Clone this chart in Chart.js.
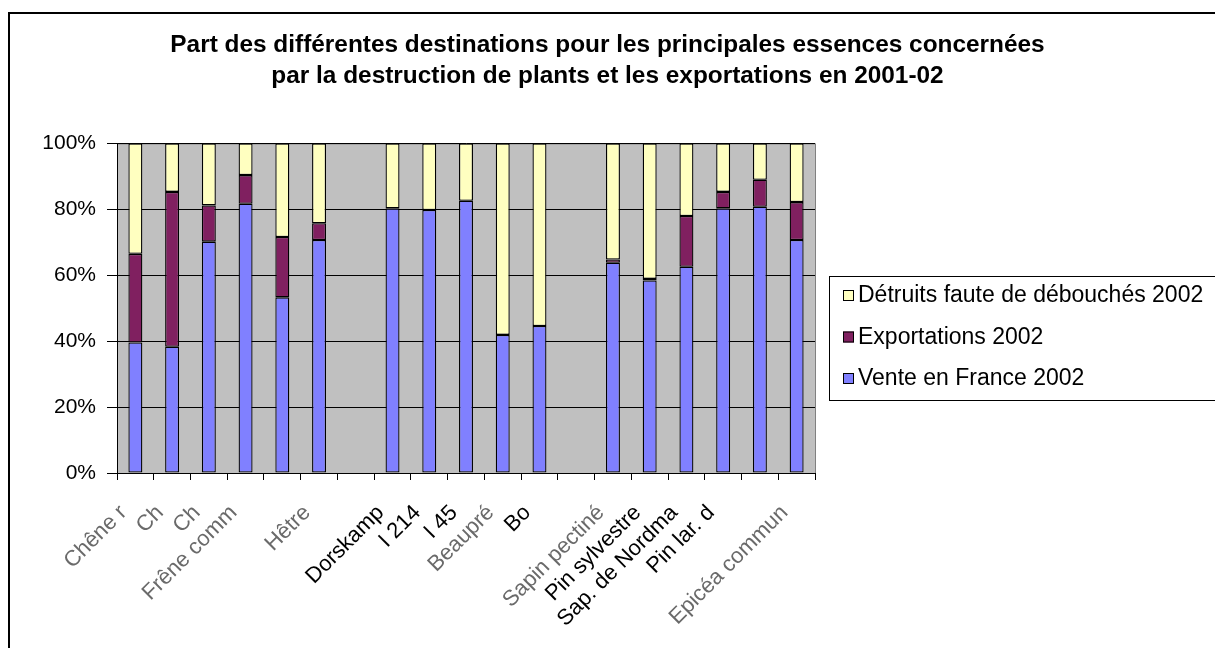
<!DOCTYPE html>
<html>
<head>
<meta charset="utf-8">
<script src="https://cdn.jsdelivr.net/npm/chart.js@4.4.1/dist/chart.umd.min.js"></script>
<style>
  html, body { margin: 0; padding: 0; background: #ffffff; }
  #wrap { width: 1215px; height: 648px; position: relative; }
</style>
</head>
<body>
<div id="wrap"><canvas id="c" width="1215" height="648"></canvas></div>
<script>
// ---- data ----
const categories = ["Chêne r", "Ch", "Ch", "Frêne comm", "", "Hêtre", "", "Dorskamp", "I 214", "I 45", "Beaupré", "Bo", "", "Sapin pectiné", "Pin sylvestre", "Sap. de Nordma", "Pin lar. d", "", "Epicéa commun"];
const venteFrance  = [39.6, 38.3, 70.2, 81.7, 53.3, 70.7, null, 80.3, 79.8, 82.6, 41.9, 44.6, null, 63.8, 58.4, 62.6, 80.3, 80.8, 70.7];
const exportations = [26.9, 47.0, 11.0, 8.7, 18.3, 5.1, null, 0, 0, 0, 0, 0, null, 1.0, 0.5, 15.4, 5.0, 8.2, 11.5];
const detruits     = [33.5, 14.7, 18.8, 9.6, 28.4, 24.2, null, 19.7, 20.2, 17.4, 58.1, 55.4, null, 35.2, 41.1, 22.0, 14.7, 11.0, 17.8];
const seriesNames  = ["Vente en France 2002", "Exportations 2002", "Détruits faute de débouchés 2002"];
const titleLines   = ["Part des différentes destinations pour les principales essences concernées",
                      "par la destruction de plants et les exportations en 2001-02"];
const yTickValues  = [0, 20, 40, 60, 80, 100];

// ---- styles ----
const seriesColors = ["#8080FF", "#802060", "#FFFFC0"];
const grayLabel = [true, true, true, true, false, true, false, false, false, false, true, false, false, true, false, false, false, false, true];
const FONT = "'Liberation Sans', Arial, sans-serif";

const frame = {
  id: 'frame',
  beforeDraw(chart) {
    const ctx = chart.ctx, a = chart.chartArea;
    ctx.save();
    ctx.fillStyle = '#ffffff';
    ctx.fillRect(0, 0, chart.width, chart.height);
    ctx.strokeStyle = '#000000';
    ctx.lineWidth = 2;
    ctx.strokeRect(9, 13, chart.width + 20, chart.height + 20);
    ctx.fillStyle = '#C0C0C0';
    ctx.fillRect(a.left, a.top, a.right - a.left, a.bottom - a.top);
    ctx.strokeStyle = '#808080';
    ctx.lineWidth = 1;
    ctx.strokeRect(a.left + 0.5, a.top + 0.5, a.right - a.left, a.bottom - a.top);
    ctx.restore();
  }
};

const boxLegend = {
  id: 'boxLegend',
  afterDraw(chart) {
    const ctx = chart.ctx;
    ctx.save();
    ctx.strokeStyle = '#000000';
    ctx.lineWidth = 1;
    ctx.strokeRect(829.5, 276.5, 500, 124);
    ctx.font = "23px " + FONT;
    ctx.textBaseline = 'middle';
    ctx.textAlign = 'left';
    const ds = chart.data.datasets;
    for (let i = 0; i < ds.length; i++) {
      const d = ds[ds.length - 1 - i];
      const yc = 295 + i * 41.5;
      ctx.fillStyle = d.backgroundColor;
      ctx.fillRect(843, yc - 5, 11, 11);
      ctx.strokeRect(843.5, yc - 4.5, 10, 10);
      ctx.fillStyle = '#000000';
      ctx.fillText(d.label, 858, yc + 1);
    }
    ctx.restore();
  }
};

const makeDs = (i, data) => ({
  label: seriesNames[i],
  data: data,
  backgroundColor: seriesColors[i],
  borderColor: '#000000',
  borderWidth: 1.3,
  borderSkipped: false,
  categoryPercentage: 1.0,
  barPercentage: 0.38
});

new Chart(document.getElementById('c'), {
  type: 'bar',
  data: {
    labels: categories,
    datasets: [makeDs(0, venteFrance), makeDs(1, exportations), makeDs(2, detruits)]
  },
  options: {
    responsive: false,
    animation: false,
    devicePixelRatio: 1,
    layout: { padding: 0 },
    plugins: {
      legend: { display: false },
      tooltip: { enabled: false },
      title: {
        display: true,
        fullSize: true,
        text: titleLines,
        color: '#000000',
        font: { family: FONT, size: 24.4, weight: 'bold', lineHeight: 1.3 },
        padding: { top: 29, bottom: 51 }
      }
    },
    scales: {
      x: {
        stacked: true,
        afterFit(scale) { scale.height = 175; },
        grid: { display: true, offset: true, drawOnChartArea: false, drawTicks: true, tickLength: 7, color: '#000000' },
        border: { display: true, color: '#000000', width: 1 },
        ticks: {
          autoSkip: false,
          maxRotation: 45,
          minRotation: 45,
          labelOffset: -12,
          padding: 20,
          color: (c) => grayLabel[c.index] ? '#6a6a6a' : '#000000',
          font: { family: FONT, size: 22 }
        }
      },
      y: {
        stacked: true,
        min: 0,
        max: 100,
        afterFit(scale) { scale.width = 117; },
        afterBuildTicks(scale) { scale.ticks = yTickValues.map(v => ({ value: v })); },
        grid: { display: true, drawOnChartArea: true, drawTicks: true, tickLength: 10, color: '#000000' },
        border: { display: true, color: '#000000', width: 1 },
        ticks: {
          padding: 11,
          color: '#000000',
          font: { family: FONT, size: 21 },
          callback: (v) => v + '%'
        }
      },
      legendSpace: {
        type: 'linear',
        position: 'right',
        display: true,
        afterFit(scale) { scale.width = 400; },
        grid: { display: false, drawOnChartArea: false },
        border: { display: false },
        ticks: { display: false }
      }
    }
  },
  plugins: [frame, boxLegend]
});
</script>
</body>
</html>
